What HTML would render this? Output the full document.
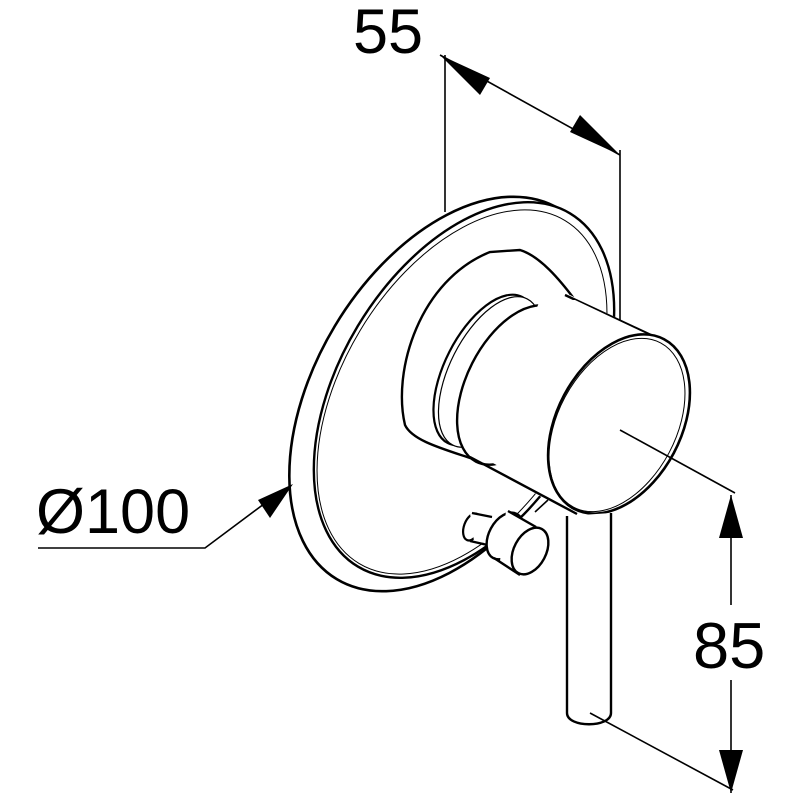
<!DOCTYPE html>
<html><head><style>
html,body{margin:0;padding:0;background:#fff}
svg{display:block}
text{font-family:"Liberation Sans",Arial,sans-serif;fill:#000}
</style></head><body>
<svg width="800" height="800" viewBox="0 0 800 800" xmlns="http://www.w3.org/2000/svg">
<g fill="none" stroke="#000" stroke-width="1.6">
<line x1="445" y1="55" x2="445" y2="212"/>
<line x1="620" y1="150" x2="620" y2="335"/>
<!-- plate back -->
<ellipse cx="448" cy="394" rx="132" ry="216" transform="rotate(31 448 394)" fill="#fff" stroke-width="2.6"/>
<!-- plate front -->
<ellipse cx="464" cy="390" rx="124" ry="206" transform="rotate(31 464 390)" fill="#fff" stroke-width="2.4"/>
<ellipse cx="462" cy="392" rx="119" ry="200" transform="rotate(31 462 392)" stroke-width="1"/>
<!-- housing base -->
<path d="M405 425 C392 370 420 280 490 252 L520 250 C540 256 560 280 575 300 L470 458 C440 448 412 440 405 425 Z" fill="#fff" stroke-width="2.4"/>
<!-- ring -->
<ellipse cx="485" cy="370" rx="40" ry="82" transform="rotate(27 485 370)" fill="#fff" stroke-width="2.2"/>
<ellipse cx="490" cy="372" rx="40" ry="82" transform="rotate(27 490 372)" fill="#fff" stroke-width="1.2"/>
<!-- knob cylinder -->
<path d="M520 310 L570 295 L668 343 L572 514 L470 457 C450 440 455 360 520 310 Z" fill="#fff" stroke="none"/>
<ellipse cx="515" cy="385" rx="48" ry="86" transform="rotate(27 515 385)" fill="#fff" stroke-width="2.4"/>
<line x1="565" y1="295" x2="668" y2="343" stroke-width="2.4"/>
<line x1="470" y1="457" x2="577" y2="514" stroke-width="2.4"/>
<path d="M540 300 L575 300 L670 345 L580 510 L478 455 Z" fill="#fff" stroke="none"/>
<!-- knob face -->
<ellipse cx="619" cy="424" rx="62" ry="96" transform="rotate(28 619 424)" fill="#fff" stroke-width="2.6"/>
<ellipse cx="617" cy="425" rx="59" ry="93" transform="rotate(28 617 425)" stroke-width="1"/>
<!-- lever -->
<path d="M567 516 L567 713 C567 728 611 728 611 713 L611 513" fill="#fff" stroke-width="2.4"/>
<!-- small diverter knob -->
<line x1="535" y1="512" x2="548" y2="500"/>
<ellipse cx="472" cy="527" rx="8" ry="14" transform="rotate(20 472 527)" fill="#fff" stroke-width="2.2"/>
<path d="M470 513 L492 516 L494 545 L474 541 Z" fill="#fff" stroke="none"/>
<line x1="472" y1="513" x2="492" y2="517" stroke-width="2.2"/>
<line x1="470" y1="541" x2="492" y2="546" stroke-width="2.2"/>
<ellipse cx="505" cy="536" rx="16" ry="25" transform="rotate(28 505 536)" fill="#fff" stroke-width="2.4"/>
<path d="M506 511 L533 525 L528 575 L500 561 Z" fill="#fff" stroke="none"/>
<line x1="508" y1="511" x2="536" y2="527" stroke-width="2.4"/>
<line x1="494" y1="558" x2="520" y2="575" stroke-width="2.4"/>
<ellipse cx="530" cy="551" rx="16" ry="25" transform="rotate(28 530 551)" fill="#fff" stroke-width="2.4"/>
<!-- 55 dimension line -->
<line x1="440" y1="55" x2="620" y2="155"/>
<!-- 85 dimension -->
<line x1="620" y1="430" x2="735" y2="493"/>
<line x1="590" y1="713" x2="733" y2="790"/>
<line x1="731" y1="495" x2="731" y2="605"/>
<line x1="731" y1="680" x2="731" y2="793"/>
<!-- Ø100 leader -->
<polyline points="38,548 205,548 280,492"/>
</g>
<g fill="#000">
<polygon points="440,55 490,78 480,95"/>
<polygon points="620,155 570,132 580,115"/>
<polygon points="731,495 719,538 743,538"/>
<polygon points="731,793 719,750 743,750"/>
<polygon points="293,484 258,500 270,518"/>
</g>
<text x="353" y="53" font-size="63">55</text>
<text x="36" y="533" font-size="63">Ø100</text>
<text x="693" y="668" font-size="65">85</text>
</svg>
</body></html>
